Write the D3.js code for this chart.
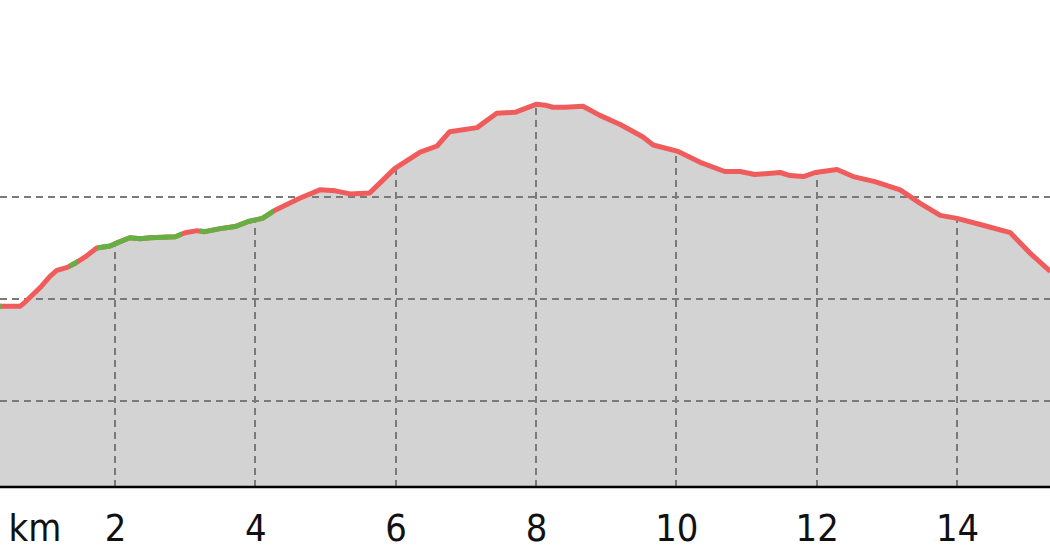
<!DOCTYPE html>
<html>
<head>
<meta charset="utf-8">
<script src="https://cdn.jsdelivr.net/npm/d3@7"></script>
<style>
  html, body { margin: 0; padding: 0; background: #fff; }
  svg { display: block; }
</style>
</head>
<body>
<svg id="chart" width="1050" height="560"></svg>
<script>
// Distance along the route (km)
const distKm = [0.36,0.65,0.72,0.93,1.07,1.17,1.32,1.43,1.57,1.74,1.93,2.03,2.21,2.36,2.50,2.86,3.00,3.17,3.28,3.50,3.71,3.90,4.10,4.28,4.64,4.92,5.14,5.35,5.63,5.99,6.35,6.59,6.77,7.16,7.44,7.70,8.01,8.13,8.24,8.41,8.67,8.91,9.20,9.52,9.67,10.01,10.34,10.69,10.91,11.12,11.31,11.48,11.62,11.81,11.98,12.29,12.52,12.83,13.19,13.47,13.76,14.00,14.33,14.76,15.04,15.33];
// Elevation (m)
const elevM = [493,493,497,511,522,528,531,535,541,550,552,555,560,559,560,561,565,567,566,569,571,576,579,587,599,607,606,603,604,628,644,650,664,668,682,683,691,690,688,688,689,680,671,659,651,645,634,625,625,622,623,624,621,620,624,627,620,615,607,594,582,579,573,565,545,527];
// Sections drawn in green (km ranges)
const greenStart = [0.36, 1.36, 1.74, 3.21];
const greenEnd   = [0.39, 1.46, 2.95, 4.25];
// Axis ticks
const xTicks = [2,4,6,8,10,12,14];
const xTickLabels = ["2","4","6","8","10","12","14"];
const yGrid = [400,500,600];
const unitLabel = "km";

const W = 1050, H = 560;
const axisY = 487;
const stretch = 1.1;       // labels are drawn slightly stretched vertically
const labelBase = 54;      // baseline below the axis line
const svg = d3.select("#chart");

const x = d3.scaleLinear().domain([0.361, 15.325]).range([0, W]);
const y = d3.scaleLinear().domain([315.7, 793.1]).range([axisY, 0]);

const pts = distKm.map((d,i) => ({d, e: elevM[i]}));

const area = d3.area().x(p => x(p.d)).y0(axisY).y1(p => y(p.e));
const line = d3.line().x(p => x(p.d)).y(p => y(p.e));

const defs = svg.append("defs");
defs.append("clipPath").attr("id","areaClip")
  .append("path").attr("d", area(pts));

// filled area
svg.append("path").attr("d", area(pts)).attr("fill", "#d3d3d3");

// horizontal grid
svg.append("g").selectAll("line").data(yGrid).join("line")
  .attr("x1", 0).attr("x2", W)
  .attr("y1", d => Math.round(y(d))).attr("y2", d => Math.round(y(d)))
  .attr("stroke", "#7a7a7a").attr("stroke-width", 2)
  .attr("stroke-dasharray", "7,5");

// vertical grid (only beneath the profile)
svg.append("g").attr("clip-path", "url(#areaClip)")
  .selectAll("line").data(xTicks).join("line")
  .attr("x1", d => Math.round(x(d))).attr("x2", d => Math.round(x(d)))
  .attr("y1", axisY).attr("y2", 0)
  .attr("stroke", "#7a7a7a").attr("stroke-width", 2)
  .attr("stroke-dasharray", "7,5");

// profile line (red)
svg.append("path").attr("d", line(pts))
  .attr("fill", "none").attr("stroke", "#f05c5c")
  .attr("stroke-width", 5).attr("stroke-linejoin", "round").attr("stroke-linecap", "butt");

// green sections
greenStart.forEach((s, i) => {
  const id = "g" + i;
  defs.append("clipPath").attr("id", id).append("rect")
    .attr("x", x(s)).attr("width", x(greenEnd[i]) - x(s))
    .attr("y", 0).attr("height", axisY);
  svg.append("path").attr("d", line(pts)).attr("clip-path", `url(#${id})`)
    .attr("fill", "none").attr("stroke", "#66b043")
    .attr("stroke-width", 5).attr("stroke-linejoin", "round");
});

// x axis
const xAxis = d3.axisBottom(x).tickValues(xTicks)
  .tickFormat((d, i) => xTickLabels[i]).tickSize(0);
const gx = svg.append("g").attr("transform", `translate(0,${axisY})`).call(xAxis);
gx.select(".domain").attr("stroke", "#000").attr("stroke-width", 2.5).attr("d", `M0,0H${W}`);
gx.selectAll("text").attr("font-family", "DejaVu Sans, sans-serif")
  .attr("font-size", 34).attr("fill", "#111")
  .attr("dy", null).attr("y", labelBase / stretch)
  .attr("transform", `scale(1,${stretch})`);

svg.append("g").attr("transform", `translate(35,${axisY})`)
  .append("text").attr("x", 0).attr("y", labelBase / stretch)
  .attr("transform", `scale(1,${stretch})`)
  .attr("text-anchor", "middle").attr("font-family", "DejaVu Sans, sans-serif")
  .attr("font-size", 34).attr("fill", "#111").text(unitLabel);
</script>
</body>
</html>
